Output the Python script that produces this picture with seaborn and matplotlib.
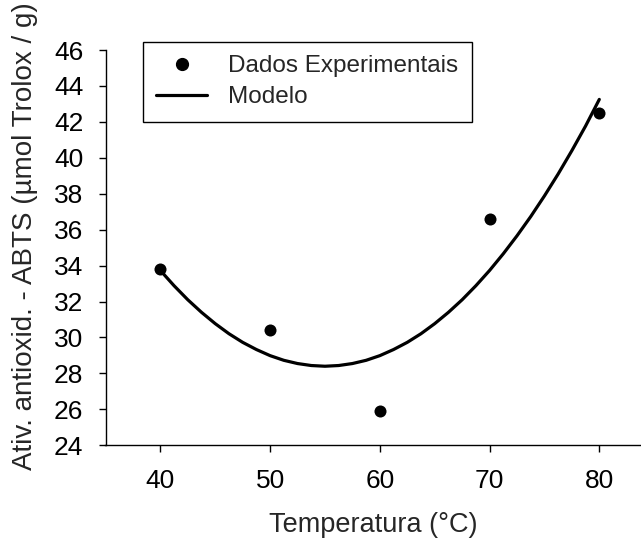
import matplotlib
matplotlib.use("Agg")
import matplotlib.pyplot as plt
import seaborn as sns
import pandas as pd
from matplotlib.lines import Line2D

# Experimental data
temp_exp = [40, 50, 60, 70, 80]
ativ_exp = [33.8, 30.4, 25.9, 36.6, 42.5]

# Model curve
temp_mod = [40, 41.25, 42.5, 43.75, 45, 46.25, 47.5, 48.75, 50, 51.25, 52.5, 53.75, 55,
            56.25, 57.5, 58.75, 60, 61.25, 62.5, 63.75, 65, 66.25, 67.5, 68.75, 70,
            71.25, 72.5, 73.75, 75, 76.25, 77.5, 78.75, 80]
ativ_mod = [33.73, 32.88, 32.10, 31.40, 30.77, 30.21, 29.73, 29.33, 28.99, 28.73, 28.55, 28.44, 28.40,
            28.44, 28.55, 28.73, 28.99, 29.33, 29.73, 30.21, 30.77, 31.40, 32.10, 32.88, 33.73,
            34.66, 35.66, 36.73, 37.88, 39.10, 40.40, 41.77, 43.25]

x_ticks = [40, 50, 60, 70, 80]
y_ticks = [24, 26, 28, 30, 32, 34, 36, 38, 40, 42, 44, 46]
legend_labels = ["Dados Experimentais", "Modelo"]

sns.set_style("ticks")
plt.rcParams['font.family'] = ['Liberation Sans', 'DejaVu Sans']

df_exp = pd.DataFrame({"T": temp_exp, "A": ativ_exp})
df_mod = pd.DataFrame({"T": temp_mod, "A": ativ_mod})

W, H = 641, 540
L, B, T = 105.5, 445.3, 50
fig = plt.figure(figsize=(W / 100, H / 100), dpi=100)
ax = fig.add_axes([L / W, 1 - B / H, 1 - L / W, (B - T) / H])

sns.lineplot(data=df_mod, x="T", y="A", ax=ax, color="black", linewidth=2.3,
             sort=False, estimator=None)
sns.scatterplot(data=df_exp, x="T", y="A", ax=ax, color="black", s=75,
                edgecolor="black", linewidth=0, zorder=3)

ax.set_xlim(35, 83.8)
ax.set_ylim(24, 46)
ax.set_xticks(x_ticks)
ax.set_yticks(y_ticks)
ax.tick_params(axis="both", labelsize=19, width=1, length=5, color="black",
               labelcolor="black")
ax.tick_params(axis="x", pad=12)
ax.tick_params(axis="y", pad=11)

for s in ["top", "right"]:
    ax.spines[s].set_visible(False)
for s in ["left", "bottom"]:
    ax.spines[s].set_color("black")
    ax.spines[s].set_linewidth(1)

ax.set_xlabel("Temperatura (°C)", fontsize=19.5, labelpad=14)
ax.set_ylabel("Ativ. antioxid. - ABTS (µmol Trolox / g)", fontsize=20)
ax.yaxis.set_label_coords(-(L - 38) / (W - L), (B - 236) / (B - T))

handles = [
    Line2D([], [], marker="o", color="black", linestyle="none", markersize=8.5),
    Line2D([], [], color="black", linewidth=2.3),
]
leg = ax.legend(handles, legend_labels, fontsize=17.5,
                loc="upper left", bbox_to_anchor=((143 - L) / (W - L), 1 + (T - 42) / (B - T)),
                frameon=True, fancybox=False, framealpha=1, edgecolor="black",
                borderpad=0.55, handlelength=2.1, handletextpad=0.85, labelspacing=0.36,
                borderaxespad=0)
leg.get_frame().set_linewidth(1)

fig.savefig("out.png", dpi=100)
